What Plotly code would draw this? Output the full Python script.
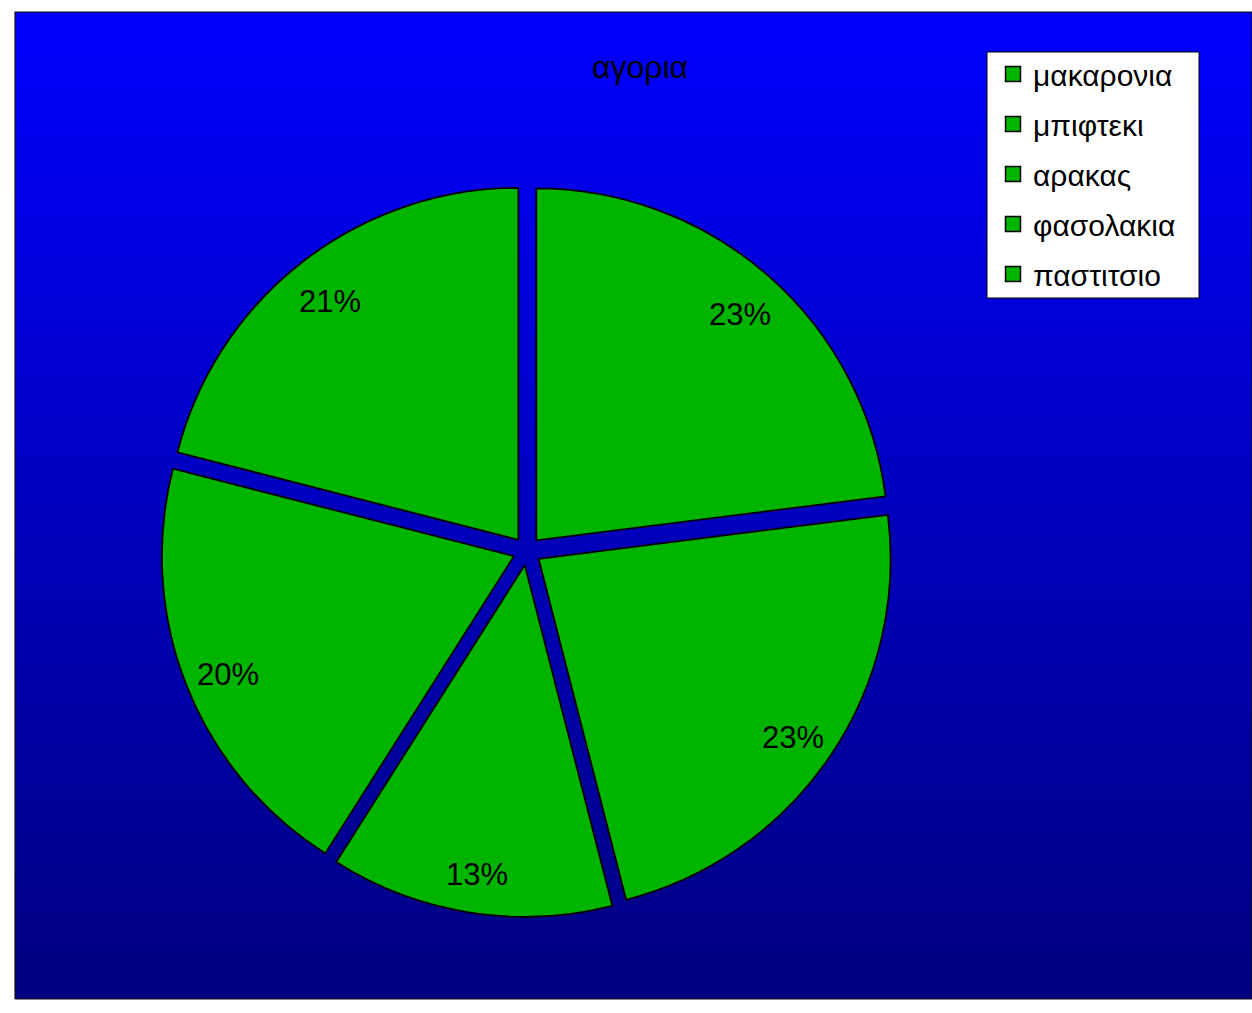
import math
import plotly.graph_objects as go

# ---- data ----
labels = ["μακαρονια", "μπιφτεκι", "αρακας", "φασολακια", "παστιτσιο"]
values = [23, 23, 13, 20, 21]
title_text = "αγορια"

# ---- layout constants (pixels) ----
W, H = 1252, 1013
cx_px, cy_px = 527, 551       # pie centre
R_px = 352                    # pie radius
pull = 0.04
label_frac = 0.875            # label radius (from slice vertex) as fraction of R
label_dy = 5                  # small downward nudge of label text (px)
GREEN = "#00B400"
FONT = "Arial, Liberation Sans, sans-serif"

half = R_px * (1 + pull)
dom_x = [(cx_px - half) / W, (cx_px + half) / W]
dom_y = [1 - (cy_px + half) / H, 1 - (cy_px - half) / H]

fig = go.Figure()

# gradient background (decoration)
x0, x1 = 15 / W, 1.0
y0, y1 = 1 - 999 / H, 1 - 12 / H
fig.add_trace(go.Scatter(
    x=[x0, x1, x1, x0, x0], y=[y0, y0, y1, y1, y0],
    mode="lines", fill="toself", line=dict(width=1.2, color="#111111"),
    fillgradient=dict(type="vertical",
                      colorscale=[[0, "#000080"], [1, "#0000FF"]]),
    hoverinfo="skip", showlegend=False,
))

fig.add_trace(go.Pie(
    labels=labels, values=values, sort=False, direction="clockwise",
    rotation=0, pull=pull,
    marker=dict(colors=[GREEN] * len(values),
                line=dict(color="#000000", width=1.8)),
    textinfo="none", hoverinfo="label+percent",
    domain=dict(x=dom_x, y=dom_y), showlegend=False,
))

# legend entries (one per category)
for i, lab in enumerate(labels):
    fig.add_trace(go.Scatter(
        x=[None], y=[None], mode="markers", name=lab,
        legendgroup=f"g{i}",
        marker=dict(symbol="square", size=15, color=GREEN,
                    line=dict(color="#000000", width=1.5)),
    ))

# percentage labels positioned from values
total = sum(values)
cum = 0
for v in values:
    mid = (cum + v / 2) / total * 2 * math.pi
    cum += v
    r = R_px * (label_frac + pull)
    lx = (cx_px + r * math.sin(mid)) / W
    ly = 1 - (cy_px - r * math.cos(mid) + label_dy) / H
    fig.add_annotation(x=lx, y=ly, xref="paper", yref="paper",
                       xanchor="center", yanchor="middle",
                       text=f"{round(v / total * 100)}%", showarrow=False,
                       font=dict(family=FONT, size=31, color="#000000"))

# legend box
fig.add_shape(type="rect", xref="paper", yref="paper",
              x0=987 / W, x1=1199 / W, y0=1 - 298 / H, y1=1 - 52 / H,
              fillcolor="#FFFFFF", line=dict(color="#000000", width=1),
              layer="above")

fig.update_layout(
    width=W, height=H,
    margin=dict(l=0, r=0, t=0, b=0),
    paper_bgcolor="#FFFFFF", plot_bgcolor="rgba(0,0,0,0)",
    xaxis=dict(range=[0, 1], visible=False, domain=[0, 1], fixedrange=True),
    yaxis=dict(range=[0, 1], visible=False, domain=[0, 1], fixedrange=True),
    title=dict(text=title_text, x=640 / W, y=1 - 67 / H,
               xanchor="center", yanchor="middle",
               font=dict(family=FONT, size=32, color="#000000")),
    legend=dict(x=993 / W, y=1 - 48 / H, xanchor="left", yanchor="top",
                bgcolor="rgba(0,0,0,0)", borderwidth=0,
                tracegroupgap=8, itemsizing="trace",
                font=dict(family=FONT, size=30, color="#000000")),
    showlegend=True,
)

fig.write_html("out.html", config={"displayModeBar": False},
               post_script="document.body.style.margin='0';")
